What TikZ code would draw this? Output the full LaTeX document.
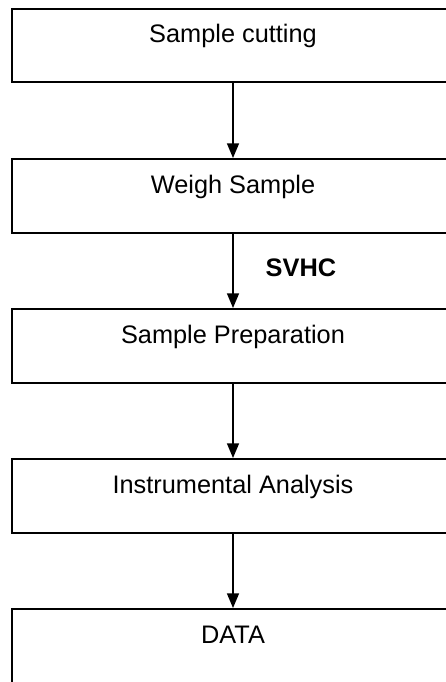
\documentclass[tikz,border=0pt]{standalone}
\usepackage{fontspec}
\setmainfont{Liberation Sans}
\usetikzlibrary{arrows.meta, positioning}
\tikzset{
    font=\fontsize{19pt}{23pt}\selectfont,
    stepbox/.style = {
        rectangle, minimum width=331.5pt, inner sep=0pt,
        text height=25.5pt, text depth=29.625pt, draw=black, line width=1.5pt
    },
    arrow/.style = {-{Triangle[length=11pt,width=9pt]}, line width=1.1pt, draw=black}
}

\begin{document}
\begin{tikzpicture}[node distance=55.875pt]
\useasboundingbox (0,0) rectangle (334.5pt,-511.5pt);
% Nodes
\node[stepbox] (cutting) at (174.75pt,-34.31pt) {Sample cutting};
\node[stepbox, below=of cutting] (weigh) {Weigh Sample};
\node[stepbox, below=of weigh] (prep) {Sample Preparation};
\node[stepbox, below=of prep] (analysis) {Instrumental Analysis};
\node[stepbox, below=of analysis] (data) {DATA};
% Arrows
\draw[arrow] (cutting) -- (weigh);
\draw[arrow] (weigh) -- node[right=24pt, yshift=2pt, inner sep=0pt, font=\fontsize{19pt}{23pt}\selectfont\bfseries] {SVHC} (prep);
\draw[arrow] (prep) -- (analysis);
\draw[arrow] (analysis) -- (data);
\end{tikzpicture}
\end{document}
